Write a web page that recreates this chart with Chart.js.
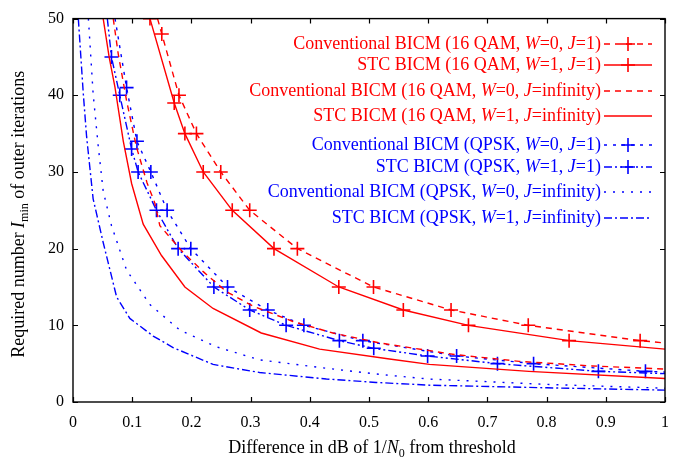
<!DOCTYPE html>
<html>
<head>
<meta charset="utf-8">
<script src="https://cdn.jsdelivr.net/npm/chart.js@4.4.1/dist/chart.umd.min.js"></script>
<style>
  html, body { margin: 0; padding: 0; background: #fff; }
  #wrap { width: 683px; height: 460px; position: relative; }
</style>
</head>
<body>
<div id="wrap"><canvas id="chart"></canvas></div>
<script>
// ---------- data (x = dB from threshold, y = iterations) ----------
const xTickLabels = ['0', '0.1', '0.2', '0.3', '0.4', '0.5', '0.6', '0.7', '0.8', '0.9', '1'];
const yTickLabels = ['0', '10', '20', '30', '40', '50'];

// 16 QAM, J=1 (points with markers + line ends)
const convQam1Marks = [[0.15, 48], [0.179, 40], [0.2085, 35], [0.2496, 30], [0.2985, 25], [0.379, 20], [0.5076, 15], [0.6386, 12], [0.769, 10], [0.958, 8]];
const convQam1Ends = [[0.1428, 50], [1, 7.7]];
const stcQam1Marks = [[0.13, 50], [0.171, 39], [0.189, 35], [0.22, 30], [0.269, 25], [0.3395, 20], [0.449, 15], [0.558, 12], [0.668, 10], [0.838, 8]];
const stcQam1Ends = [[0.13, 50], [1, 6.9]];

// 16 QAM, J=infinity
const convQamInf = [[0.068, 50], [0.0764, 45.4], [0.0905, 39.3], [0.107, 33.3], [0.125, 28.6], [0.138, 26], [0.1467, 23], [0.186, 19.5], [0.22, 17], [0.259, 14.4], [0.304, 12.5], [0.3715, 10.5], [0.439, 9], [0.518, 7.7], [0.644, 6.2], [0.754, 5.3], [0.877, 4.7], [1, 4.3]];
const stcQamInf = [[0.051, 50], [0.061, 45], [0.071, 41], [0.085, 34], [0.099, 28.5], [0.1186, 23.2], [0.1495, 19.1], [0.189, 15], [0.2366, 12.2], [0.318, 9], [0.4165, 6.9], [0.5346, 5.6], [0.602, 4.9], [0.77, 4.0], [1, 3.07]];

// QPSK, J=1
const convQpsk1Marks = [[0.0905, 41], [0.108, 34], [0.1315, 30], [0.159, 25], [0.199, 20], [0.261, 15], [0.329, 12], [0.39, 10], [0.4896, 8], [0.648, 6], [0.778, 5], [0.967, 4]];
const convQpsk1Ends = [[0.071, 50], [1, 3.9]];
const stcQpsk1Marks = [[0.065, 45], [0.079, 40], [0.099, 33], [0.110, 30], [0.141, 25], [0.1776, 20], [0.238, 15], [0.2985, 12], [0.360, 10], [0.45, 8], [0.508, 7], [0.599, 6], [0.717, 5], [0.8875, 4]];
const stcQpsk1Ends = [[0.058, 50], [1, 3.7]];

// QPSK, J=infinity
const convQpskInf = [[0.026, 50], [0.034, 40.2], [0.0427, 33.3], [0.051, 27.5], [0.065, 23], [0.0905, 17.2], [0.13, 12.7], [0.18, 9.4], [0.242, 7.2], [0.315, 5.5], [0.428, 4.4], [0.518, 3.6], [0.6, 3.0], [0.8, 2.3], [1, 1.8]];
const stcQpskInf = [[0.009, 50], [0.0174, 40.2], [0.023, 34.6], [0.034, 26.5], [0.051, 20.8], [0.0737, 13.7], [0.096, 10.9], [0.1354, 8.6], [0.169, 7.1], [0.2366, 4.9], [0.315, 3.85], [0.428, 3.0], [0.512, 2.55], [0.6, 2.2], [0.8, 1.85], [1, 1.55]];

const RED = '#ff0000';
const BLUE = '#0000ff';
const SERIF = '"Liberation Serif", "Times New Roman", serif';

const pts = arr => arr.map(p => ({ x: p[0], y: p[1] }));
const withEnds = (marks, ends) => pts([ends[0], ...marks, ends[1]]);

// legend text runs: [text, style]  style 0 = roman, 1 = italic, 2 = subscript
const series = [
  { runs: [['Conventional BICM (16 QAM, ', 0], ['W', 1], ['=0, ', 0], ['J', 1], ['=1)', 0]], color: RED, dash: [6, 5], line: withEnds(convQam1Marks, convQam1Ends), marks: pts(convQam1Marks) },
  { runs: [['STC BICM (16 QAM, ', 0], ['W', 1], ['=1, ', 0], ['J', 1], ['=1)', 0]], color: RED, dash: [], line: withEnds(stcQam1Marks, stcQam1Ends), marks: pts(stcQam1Marks) },
  { runs: [['Conventional BICM (16 QAM, ', 0], ['W', 1], ['=0, ', 0], ['J', 1], ['=infinity)', 0]], color: RED, dash: [6, 5], line: pts(convQamInf), marks: null },
  { runs: [['STC BICM (16 QAM, ', 0], ['W', 1], ['=1, ', 0], ['J', 1], ['=infinity)', 0]], color: RED, dash: [], line: pts(stcQamInf), marks: null },
  { runs: [['Conventional BICM (QPSK, ', 0], ['W', 1], ['=0, ', 0], ['J', 1], ['=1)', 0]], color: BLUE, dash: [3, 6], line: withEnds(convQpsk1Marks, convQpsk1Ends), marks: pts(convQpsk1Marks) },
  { runs: [['STC BICM (QPSK, ', 0], ['W', 1], ['=1, ', 0], ['J', 1], ['=1)', 0]], color: BLUE, dash: [8, 3, 2, 3, 2, 3], line: withEnds(stcQpsk1Marks, stcQpsk1Ends), marks: pts(stcQpsk1Marks) },
  { runs: [['Conventional BICM (QPSK, ', 0], ['W', 1], ['=0, ', 0], ['J', 1], ['=infinity)', 0]], color: BLUE, dash: [2, 7], line: pts(convQpskInf), marks: null },
  { runs: [['STC BICM (QPSK, ', 0], ['W', 1], ['=1, ', 0], ['J', 1], ['=infinity)', 0]], color: BLUE, dash: [8, 3, 2, 3], line: pts(stcQpskInf), marks: null }
];

const legendY = [44, 65, 91, 116, 145, 167, 192, 218];

// ---------- helpers ----------
function fontFor(style, size) {
  if (style === 1) return 'italic ' + size + 'px ' + SERIF;
  if (style === 2) return Math.round(size * 0.68) + 'px ' + SERIF;
  return size + 'px ' + SERIF;
}

function drawRuns(ctx, runs, x, y, size, align) {
  let total = 0;
  runs.forEach(r => { ctx.font = fontFor(r[1], size); total += ctx.measureText(r[0]).width; });
  let cx = align === 'right' ? x - total : align === 'center' ? x - total / 2 : x;
  ctx.textAlign = 'left';
  ctx.textBaseline = 'middle';
  runs.forEach(r => {
    ctx.font = fontFor(r[1], size);
    ctx.fillText(r[0], cx, r[1] === 2 ? y + size * 0.3 : y);
    cx += ctx.measureText(r[0]).width;
  });
}

// ---------- gnuplot style frame, inward ticks, titles, key ----------
const gnuFrame = {
  id: 'gnuFrame',
  afterDraw(chart) {
    const ctx = chart.ctx;
    const a = chart.chartArea;
    const xs = chart.scales.x;
    const ys = chart.scales.y;
    const tick = 5;

    ctx.save();
    ctx.strokeStyle = '#000';
    ctx.lineWidth = 1.4;
    ctx.strokeRect(a.left, a.top, a.right - a.left, a.bottom - a.top);

    ctx.beginPath();
    xs.ticks.forEach(t => {
      const px = Math.round(xs.getPixelForValue(t.value)) + 0.5;
      ctx.moveTo(px, a.bottom); ctx.lineTo(px, a.bottom - tick);
      ctx.moveTo(px, a.top); ctx.lineTo(px, a.top + tick);
    });
    ys.ticks.forEach(t => {
      const py = Math.round(ys.getPixelForValue(t.value)) + 0.5;
      ctx.moveTo(a.left, py); ctx.lineTo(a.left + tick, py);
      ctx.moveTo(a.right, py); ctx.lineTo(a.right - tick, py);
    });
    ctx.lineWidth = 1.2;
    ctx.stroke();

    // axis titles
    ctx.fillStyle = '#000';
    drawRuns(ctx, [['Difference in dB of 1/', 0], ['N', 1], ['0', 2], [' from threshold', 0]],
      (a.left + a.right) / 2 + 3, 448, 18, 'center');
    ctx.save();
    ctx.translate(19, (a.top + a.bottom) / 2 + 4);
    ctx.rotate(-Math.PI / 2);
    drawRuns(ctx, [['Required number ', 0], ['I', 1], ['min', 2], [' of outer iterations', 0]], 0, 0, 18, 'center');
    ctx.restore();

    // key
    const textRight = 601, x0 = 604, x1 = 652;
    series.forEach((s, i) => {
      const y = legendY[i];
      ctx.fillStyle = s.color;
      drawRuns(ctx, s.runs, textRight, y, 18, 'right');
      ctx.beginPath();
      ctx.setLineDash(s.dash);
      ctx.strokeStyle = s.color;
      ctx.lineWidth = 1.4;
      ctx.moveTo(x0, y); ctx.lineTo(x1, y);
      ctx.stroke();
      ctx.setLineDash([]);
      if (s.marks) {
        const m = (x0 + x1) / 2;
        ctx.beginPath();
        ctx.lineWidth = 1.6;
        ctx.moveTo(m - 7, y); ctx.lineTo(m + 7, y);
        ctx.moveTo(m, y - 7); ctx.lineTo(m, y + 7);
        ctx.stroke();
      }
    });
    ctx.restore();
  }
};

// ---------- datasets ----------
const datasets = [];
series.forEach(s => {
  datasets.push({
    data: s.line,
    showLine: true,
    borderColor: s.color,
    borderWidth: 1.4,
    borderDash: s.dash,
    pointRadius: 0,
    fill: false,
    tension: 0
  });
  if (s.marks) {
    datasets.push({
      data: s.marks,
      showLine: false,
      pointStyle: 'cross',
      pointRadius: 7,
      pointBorderWidth: 1.6,
      borderColor: s.color,
      backgroundColor: s.color
    });
  }
});

new Chart(document.getElementById('chart'), {
  type: 'scatter',
  data: { datasets: datasets },
  options: {
    responsive: true,
    maintainAspectRatio: false,
    animation: false,
    layout: { padding: { top: 14, right: 18, left: 0, bottom: 0 } },
    plugins: {
      legend: { display: false },
      tooltip: { enabled: false }
    },
    scales: {
      x: {
        type: 'linear',
        min: 0,
        max: 1,
        border: { display: false },
        grid: { display: false, drawTicks: false },
        afterFit: s => { s.height = 58; },
        ticks: {
          stepSize: 0.1,
          padding: 11,
          color: '#000',
          font: { family: SERIF, size: 16 },
          callback: (v, i) => xTickLabels[i]
        }
      },
      y: {
        type: 'linear',
        min: 0,
        max: 50,
        border: { display: false },
        grid: { display: false, drawTicks: false },
        afterFit: s => { s.width = 73; },
        ticks: {
          stepSize: 10,
          padding: 9,
          color: '#000',
          font: { family: SERIF, size: 16 },
          callback: (v, i) => yTickLabels[i]
        }
      }
    }
  },
  plugins: [gnuFrame]
});
</script>
</body>
</html>
